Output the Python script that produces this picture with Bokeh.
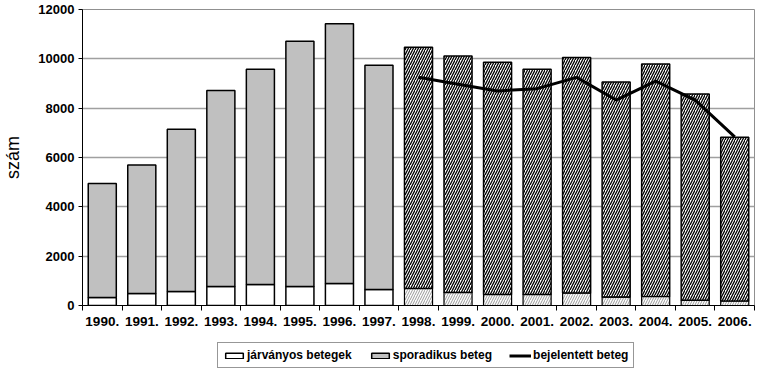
from bokeh.plotting import figure
from bokeh.layouts import column
from bokeh.models import ColumnDataSource, FixedTicker, Legend, LegendItem, Range1d
from bokeh.embed import file_html
from bokeh.resources import INLINE

# ---- data ----
years = ["1990.", "1991.", "1992.", "1993.", "1994.", "1995.", "1996.", "1997.",
         "1998.", "1999.", "2000.", "2001.", "2002.", "2003.", "2004.", "2005.", "2006."]
jarvanyos = [325, 490, 570, 770, 850, 770, 890, 650,
             690, 530, 450, 450, 510, 340, 365, 215, 185]
sporadikus = [4625, 5210, 6580, 7950, 8730, 9940, 10535, 9090,
              9780, 9580, 9410, 9130, 9540, 8720, 9425, 8355, 6635]
bejelentett_years = ["1998.", "1999.", "2000.", "2001.", "2002.", "2003.", "2004.", "2005.", "2006."]
bejelentett = [9250, 8970, 8700, 8790, 9250, 8330, 9100, 8330, 6840]
y_ticks = [0, 2000, 4000, 6000, 8000, 10000, 12000]
y_label = "szám"
series_names = ["járványos betegek", "sporadikus beteg", "bejelentett beteg"]
split_year = "1998."  # from this year on the bars are hatched

n = len(years)
xpos = [i + 0.5 for i in range(n)]
tops = [j + s for j, s in zip(jarvanyos, sporadikus)]
k = years.index(split_year)

def src(a, b):
    return ColumnDataSource(dict(x=xpos[a:b], j=jarvanyos[a:b], t=tops[a:b]))

early = src(0, k)
late = src(k, n)
line_src = ColumnDataSource(dict(x=[xpos[years.index(y)] for y in bejelentett_years], v=bejelentett))

FONT = "Liberation Sans"

p = figure(width=762, height=338, output_backend="svg", toolbar_location=None,
           x_range=Range1d(0, n), y_range=Range1d(0, 12000),
           min_border_left=80, min_border_right=8, min_border_top=9, min_border_bottom=33)
p.background_fill_color = "white"
p.border_fill_color = "white"
p.outline_line_color = "#909090"
p.outline_line_width = 1

W = 0.71
BAR_STYLE = dict(fill_color="white", line_color="black", line_width=1.5)
SPOR_STYLE = dict(fill_color="#c0c0c0", line_color="black", line_width=1.5)
# early bars
p.vbar(x="x", bottom=0, top="j", width=W, source=early, **BAR_STYLE)
p.vbar(x="x", bottom="j", top="t", width=W, source=early, **SPOR_STYLE)
# late bars (hatched)
p.vbar(x="x", bottom=0, top="j", width=W, source=late,
       fill_color="white", line_color="black", line_width=1.2,
       hatch_pattern="/", hatch_color="#999999", hatch_scale=5, hatch_weight=1)
p.vbar(x="x", bottom="j", top="t", width=W, source=late,
       fill_color="white", line_color="black", line_width=1.5,
       hatch_pattern="/", hatch_color="black", hatch_scale=5, hatch_weight=1.3)
p.line(x="x", y="v", source=line_src, line_color="black", line_width=3)

# grid
p.xgrid.visible = False
p.ygrid.ticker = FixedTicker(ticks=y_ticks)
p.ygrid.grid_line_color = "#a0a0a0"
p.ygrid.grid_line_width = 1.5

# y axis
ya = p.yaxis[0]
ya.ticker = FixedTicker(ticks=y_ticks)
ya.axis_line_color = "black"
ya.axis_line_width = 1
ya.major_tick_in = 0
ya.major_tick_out = 4
ya.minor_tick_line_color = None
ya.major_label_text_font = FONT
ya.major_label_text_font_style = "bold"
ya.major_label_text_font_size = "13px"
ya.major_label_text_color = "black"
ya.major_label_standoff = 4
ya.axis_label = y_label
ya.axis_label_text_font = FONT
ya.axis_label_text_font_style = "normal"
ya.axis_label_text_font_size = "18px"
ya.axis_label_text_color = "black"
ya.axis_label_standoff = 12

# x axis: labels at centers, minor ticks at category boundaries
xa = p.xaxis[0]
xa.ticker = FixedTicker(ticks=xpos, minor_ticks=list(range(n + 1)))
xa.major_label_overrides = {xv: lab for xv, lab in zip(xpos, years)}
xa.major_tick_line_color = None
xa.major_tick_in = 0
xa.major_tick_out = 5
xa.minor_tick_line_color = "black"
xa.minor_tick_in = 0
xa.minor_tick_out = 5
xa.axis_line_color = "black"
xa.major_label_text_font = FONT
xa.major_label_text_font_style = "bold"
xa.major_label_text_font_size = "13.5px"
xa.major_label_text_color = "black"
xa.major_label_standoff = 6

# ---- legend strip below the chart ----
q = figure(width=762, height=30, output_backend="svg", toolbar_location=None,
           x_range=Range1d(0, 1), y_range=Range1d(0, 1),
           min_border_left=0, min_border_right=0, min_border_top=0, min_border_bottom=0)
q.axis.visible = False
q.grid.visible = False
q.outline_line_color = None
# legend-only renderers: tiny marks hidden underneath the opaque legend box
hid = ColumnDataSource(dict(x=[0.5, 0.51], y=[0.3, 0.3]))
g1 = q.vbar(x="x", bottom=0.25, top="y", width=0.005, source=hid, **BAR_STYLE)
g2 = q.vbar(x="x", bottom=0.25, top="y", width=0.005, source=hid, **SPOR_STYLE)
g3 = q.line(x="x", y="y", source=hid, line_color="black", line_width=3)

legend = Legend(items=[LegendItem(label=series_names[0], renderers=[g1]),
                       LegendItem(label=series_names[1], renderers=[g2]),
                       LegendItem(label=series_names[2], renderers=[g3])],
                orientation="horizontal", location=(135, 0),
                label_text_font=FONT, label_text_font_style="bold",
                label_text_font_size="12px", label_text_color="black",
                glyph_width=22, glyph_height=7,
                label_standoff=2, spacing=17, padding=5, margin=0,
                border_line_color="#303030", border_line_width=1,
                background_fill_color="white", background_fill_alpha=1.0,
                label_height=12)
q.add_layout(legend, "center")

open("out.html", "w").write(file_html(column(p, q, spacing=0), INLINE))
